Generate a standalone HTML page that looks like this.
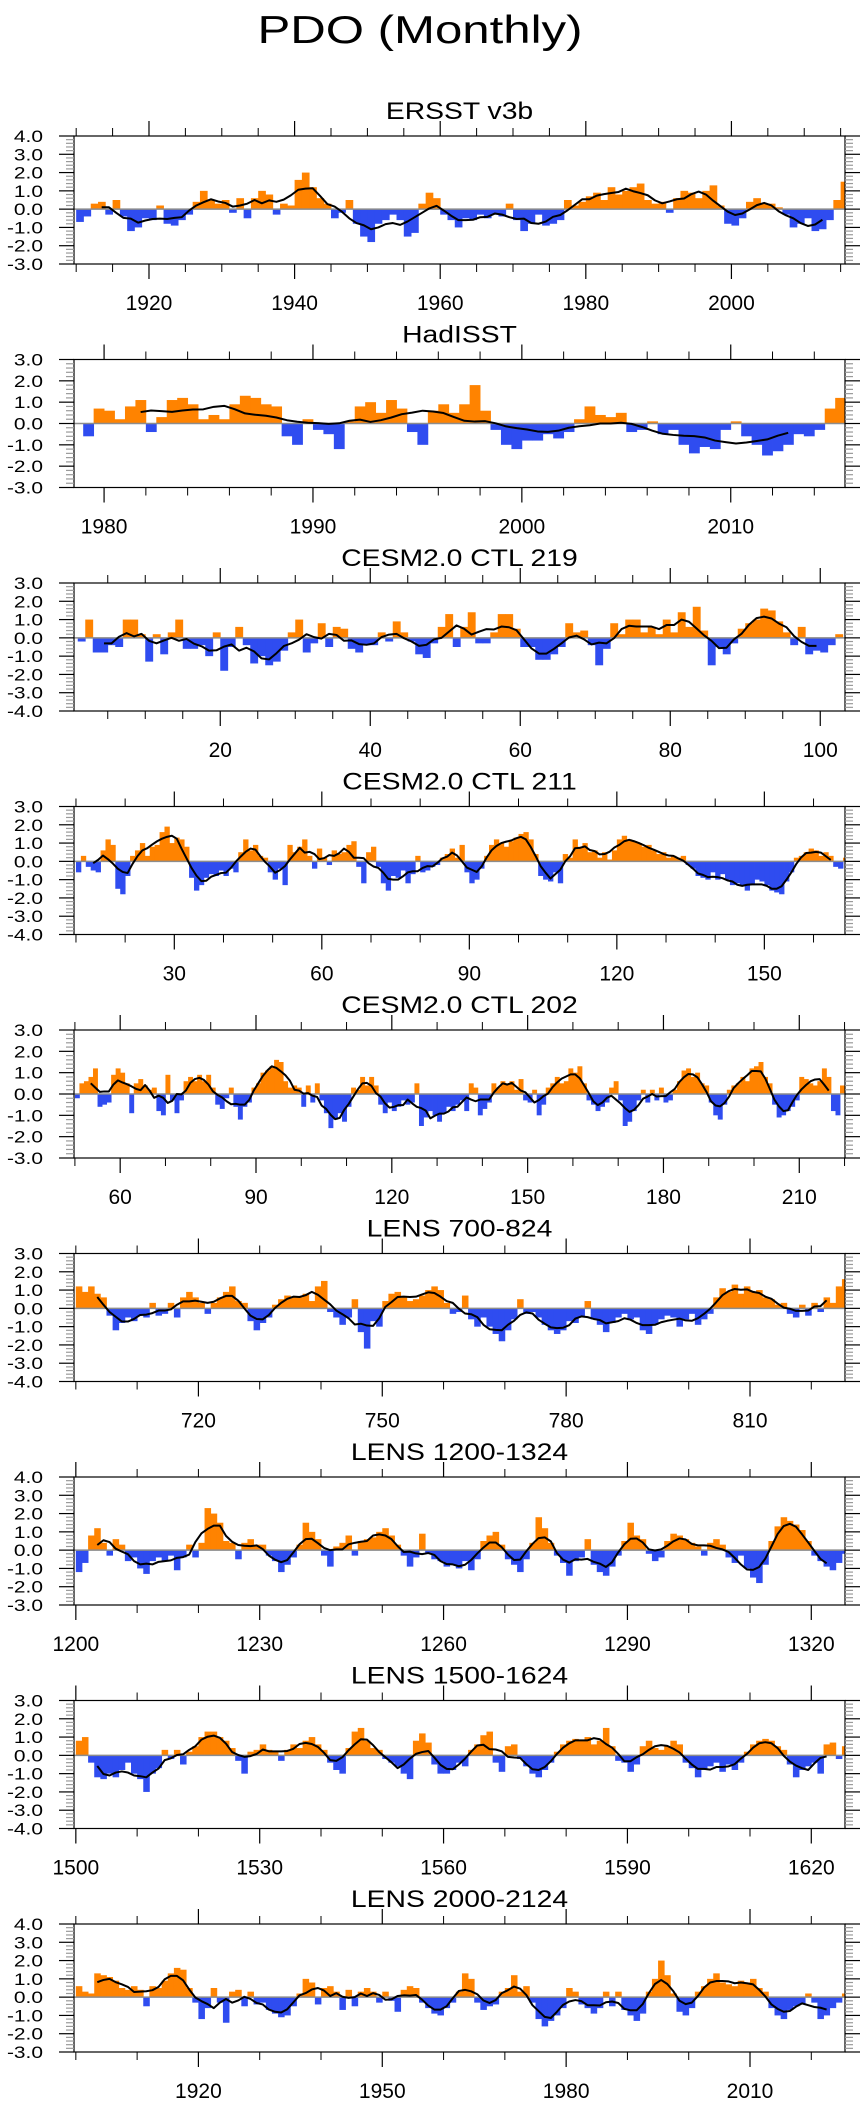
<!DOCTYPE html>
<html><head><meta charset="utf-8"><title>PDO (Monthly)</title>
<style>
html,body{margin:0;padding:0;background:#fff;}
svg{display:block;font-family:"Liberation Sans",Arial,sans-serif;}
</style></head>
<body>
<svg id="chart" width="867" height="2107" viewBox="0 0 867 2107" xmlns="http://www.w3.org/2000/svg">
<rect x="0" y="0" width="867" height="2107" fill="#fff"/>
<text x="420" y="43" text-anchor="middle" font-size="39" transform="translate(420,0) scale(1.26,1) translate(-420,0)">PDO (Monthly)</text>
</svg>
<script>
const panelTitles = ["ERSST v3b","HadISST","CESM2.0 CTL 219","CESM2.0 CTL 211","CESM2.0 CTL 202","LENS 700-824","LENS 1200-1324","LENS 1500-1624","LENS 2000-2124"];

const ersstStart = 1910;
const ersstValues = [-0.7,-0.4,0.3,0.4,-0.3,0.5,-0.4,-1.2,-1.0,-0.5,-0.6,0.2,-0.8,-0.9,-0.6,-0.3,0.4,1.0,0.5,0.3,0.5,-0.2,0.6,-0.5,0.6,1.0,0.8,-0.3,0.3,0.2,1.6,2.0,1.2,0.6,0.3,-0.5,-0.2,0.5,-0.8,-1.5,-1.8,-0.8,-0.6,-0.3,-0.6,-1.5,-1.3,0.3,0.9,0.6,-0.3,-0.6,-1.0,-0.5,-0.6,-0.3,-0.5,-0.3,-0.4,0.3,-0.6,-1.2,-0.8,-0.3,-0.9,-0.8,-0.6,0.5,0.2,0.4,0.7,0.9,0.5,1.2,0.8,1.0,1.2,1.4,0.5,0.3,0.4,-0.2,0.6,1.0,0.9,0.6,1.0,1.3,0.2,-0.8,-0.9,-0.5,0.4,0.6,0.3,0.3,0.1,-0.3,-1.0,-0.8,-0.5,-1.2,-1.1,-0.6,0.5,1.5];

const hadStart = 1979.0;
const hadValues = [-0.6,0.7,0.6,0.2,0.8,1.1,-0.4,0.3,1.1,1.2,0.9,0.2,0.4,0.2,0.9,1.3,1.2,0.9,0.8,-0.6,-1.0,0.2,-0.3,-0.5,-1.2,0.1,0.8,1.0,0.5,1.1,0.7,-0.4,-1.0,0.6,0.9,0.5,0.9,1.8,0.6,-0.3,-1.0,-1.2,-0.8,-0.8,-0.5,-0.7,-0.4,0.2,0.8,0.4,0.3,0.5,-0.4,-0.3,0.1,-0.5,-0.3,-1.0,-1.4,-1.1,-1.2,-0.3,0.1,-0.6,-1.0,-1.5,-1.3,-1.0,-0.5,-0.6,-0.3,0.7,1.2];

const ctl219Start = 1;
const ctl219Values = [-0.2,1.0,-0.8,-0.8,-0.4,-0.5,1.0,1.0,0.2,-1.3,0.2,-0.9,0.3,1.0,-0.6,-0.6,-0.4,-1.0,0.3,-1.8,-0.5,0.6,-0.4,-1.4,-1.0,-1.5,-1.3,-0.7,0.3,1.0,-0.8,-0.3,0.8,-0.5,0.6,0.5,-0.6,-0.8,-0.4,-0.4,0.3,-0.2,0.9,0.3,-0.2,-0.9,-1.1,-0.3,0.6,1.3,-0.5,0.6,1.4,-0.3,-0.3,0.3,1.3,1.3,0.5,-0.5,-0.5,-1.2,-1.2,-0.9,-0.5,0.8,0.3,0.4,-0.4,-1.5,-0.6,0.8,0.2,1.0,1.0,0.3,0.6,0.2,1.0,0.3,1.4,0.6,1.7,0.4,-1.5,-0.5,-0.9,-0.3,0.5,0.8,1.0,1.6,1.5,0.9,0.3,-0.4,0.6,-0.9,-0.7,-0.8,-0.4,0.2];

const ctl211Start = 10;
const ctl211Values = [-0.6,0.3,-0.3,-0.5,-0.6,0.6,1.2,0.9,-1.5,-1.8,-0.8,0.3,0.6,1.0,0.3,0.8,0.9,1.6,1.9,1.0,1.3,1.2,0.8,-0.9,-1.6,-1.3,-0.9,-0.7,-0.8,-0.5,-0.8,-0.4,-0.6,0.5,1.2,0.6,0.9,0.3,0.2,-0.6,-1.0,-0.4,-1.3,0.9,0.5,0.8,1.2,0.3,-0.4,0.7,0.2,-0.2,0.6,0.4,0.5,0.9,1.1,-0.3,-1.2,0.5,0.8,-0.3,-1.2,-1.6,-0.8,-0.9,-0.5,-1.2,-0.7,0.3,-0.6,-0.5,-0.3,-0.2,0.2,0.4,0.7,0.2,0.9,-0.6,-1.2,-1.0,-0.4,0.3,0.9,1.2,1.0,0.8,1.1,1.3,1.5,1.6,1.2,0.4,-0.8,-1.0,-1.1,-0.6,-1.2,0.4,0.2,1.2,0.8,1.0,0.5,0.6,0.2,0.5,0.1,0.6,1.2,1.4,1.2,1.1,1.0,0.8,0.9,0.6,0.4,0.5,0.2,0.3,0.2,0.3,-0.2,-0.4,-0.8,-0.9,-1.0,-0.6,-1.0,-0.7,-1.0,-1.3,-1.2,-1.3,-1.6,-1.3,-1.0,-1.1,-1.3,-1.6,-1.7,-1.8,-1.1,-0.6,0.2,0.3,0.5,0.7,0.6,0.3,0.5,0.3,-0.3,-0.4,0.2];

const ctl202Start = 50;
const ctl202Values = [-0.2,0.5,0.6,0.8,1.2,-0.6,-0.5,-0.4,0.9,1.2,1.0,0.5,-0.9,0.5,0.7,0.4,0.2,0.3,-0.8,-1.0,0.9,-0.3,-0.9,-0.3,0.6,0.8,0.6,0.9,0.6,0.9,0.3,-0.5,-0.7,-0.2,0.3,-0.6,-1.2,-0.6,-0.4,0.3,0.5,1.0,1.1,1.3,1.6,1.5,0.6,0.3,0.4,0.3,-0.6,0.4,-0.4,0.5,-0.3,-0.9,-1.6,-1.2,-0.9,-1.3,-0.6,0.3,0.2,0.8,0.4,0.8,0.4,-0.5,-0.9,-0.4,-0.8,-0.6,-0.3,-0.5,-0.4,0.5,-1.5,-1.1,-0.8,-1.0,-1.3,-0.9,-0.6,-0.8,-0.5,-0.3,-0.8,0.5,0.3,-1.0,-0.7,-0.4,0.5,0.3,0.6,0.5,0.6,0.2,0.7,-0.3,-0.4,0.2,-1.0,-0.5,0.3,0.5,0.8,0.5,0.6,1.2,1.0,1.3,0.5,-0.3,-0.5,-0.8,-0.6,-0.4,0.3,0.6,-0.3,-1.5,-1.3,-0.8,-0.3,0.2,-0.4,0.2,-0.3,0.3,-0.4,-0.3,0.2,0.6,1.1,1.2,0.8,1.0,0.5,0.4,-0.4,-1.0,-1.2,-0.5,0.2,0.4,0.5,0.8,0.6,1.2,1.3,1.5,0.8,0.5,-0.5,-1.1,-1.0,-0.8,-0.6,-0.3,0.8,0.7,0.5,0.4,0.6,1.2,0.8,-0.8,-1.0,0.4];

const lens700Start = 700;
const lens700Values = [1.2,0.9,1.2,0.8,0.6,-0.4,-1.2,-0.8,-0.5,-0.7,-0.4,-0.5,0.3,-0.4,-0.3,0.3,-0.5,0.6,0.9,0.6,0.3,-0.3,0.3,0.6,0.9,1.2,0.4,0.3,-0.7,-1.2,-0.8,-0.5,0.2,0.5,0.7,0.6,0.6,0.8,0.4,1.2,1.5,-0.2,-0.5,-0.9,-0.5,0.5,-1.3,-2.2,-0.7,-1.0,0.4,0.8,0.9,0.6,0.4,0.5,0.7,1.0,1.2,1.0,0.3,-0.3,-0.2,0.7,-0.6,-1.0,-0.5,-1.0,-1.4,-1.8,-1.2,-0.6,0.5,-0.3,-0.2,-0.5,-0.9,-1.2,-1.4,-1.2,-0.7,-0.8,-0.5,0.4,-0.6,-0.9,-1.3,-0.8,-0.5,-0.3,-0.6,-0.5,-1.2,-1.4,-0.9,-0.6,-0.4,-0.5,-1.0,-0.6,-0.3,-0.9,-0.6,-0.3,0.6,1.1,0.9,1.3,0.8,1.2,0.9,1.0,0.6,0.5,0.2,0.3,-0.3,-0.5,0.2,-0.4,0.3,-0.2,0.6,0.3,1.2,1.6];

const lens1200Start = 1200;
const lens1200Values = [-1.2,-0.7,0.8,1.2,0.4,-0.3,0.6,0.3,-0.6,-0.4,-1.0,-1.3,-0.6,-0.4,-0.6,-0.3,-1.1,-0.4,0.3,-0.4,0.4,2.3,2.0,1.5,0.5,0.4,-0.5,0.4,0.6,0.3,0.3,-0.3,-0.6,-1.2,-0.8,-0.4,0.3,1.5,1.0,0.6,-0.3,-0.9,0.2,0.4,0.8,-0.3,0.5,0.6,0.7,1.0,1.2,0.8,0.3,-0.3,-0.9,-0.4,0.9,-0.2,-0.5,-0.6,-0.9,-0.8,-1.0,-0.6,-1.1,-0.5,0.5,0.8,1.0,0.3,-0.5,-0.8,-1.2,-0.5,0.4,1.8,1.2,0.4,-0.3,-0.7,-1.4,-0.6,-0.4,0.6,-0.8,-1.2,-1.4,-0.9,-0.3,0.5,1.5,0.8,0.6,-0.2,-0.6,-0.4,0.5,0.9,0.8,0.6,0.4,0.2,-0.3,0.4,0.6,0.3,-0.4,-0.7,-0.3,-1.0,-1.5,-1.8,-0.8,0.5,1.3,1.8,1.6,1.4,1.1,0.5,-0.3,-0.6,-0.9,-1.1,-0.7,-0.2];

const lens1500Start = 1500;
const lens1500Values = [0.8,1.0,-0.4,-1.2,-1.3,-1.0,-1.2,-0.8,-0.4,-1.0,-1.3,-2.0,-1.0,-0.7,0.3,-0.2,0.3,-0.5,0.2,0.5,1.0,1.3,1.3,1.0,0.8,0.4,-0.3,-1.0,0.2,0.3,0.6,0.3,0.2,-0.3,0.3,0.6,0.4,0.8,1.0,0.6,0.3,-0.4,-0.8,-1.0,0.4,1.3,1.5,0.8,0.4,0.3,-0.2,-0.4,-0.6,-1.0,-1.3,0.8,1.2,0.7,-0.5,-1.0,-1.0,-0.8,-0.4,-0.6,0.3,0.6,1.1,1.3,-0.4,-0.9,0.5,0.6,-0.2,-0.6,-1.0,-1.2,-0.8,-0.4,0.2,0.6,0.8,0.9,0.8,1.0,0.6,0.8,1.5,0.5,-0.3,-0.4,-0.9,-0.5,0.5,0.8,0.4,0.3,0.5,0.8,0.6,-0.4,-0.7,-1.2,-0.8,-0.6,-0.4,-0.9,-0.5,-0.8,-0.4,0.2,0.6,0.8,0.9,0.8,0.5,0.3,-0.5,-1.2,-0.8,-0.6,-0.4,-1.0,0.6,0.7,-0.2,0.5];

const lens2000Start = 1900;
const lens2000Values = [0.6,0.3,0.2,1.3,1.2,1.1,0.9,0.5,0.4,0.6,0.4,-0.5,0.6,0.5,0.9,1.3,1.6,1.5,0.5,-0.3,-1.2,-0.6,0.5,-0.3,-1.4,0.3,0.4,-0.5,0.3,-0.4,-0.3,-0.7,-0.9,-1.1,-1.0,-0.5,0.2,1.0,0.8,-0.4,0.5,0.6,0.3,-0.7,0.4,-0.5,0.3,0.5,0.3,-0.3,0.3,-0.2,-0.8,0.4,0.6,0.5,-0.3,-0.6,-0.9,-1.0,-0.6,-0.3,0.3,1.3,1.0,-0.3,-0.7,-0.5,-0.4,0.3,0.5,1.2,0.3,0.6,-0.3,-1.2,-1.6,-1.3,-1.0,-0.6,0.5,0.3,-0.4,-0.6,-0.9,-0.6,0.3,-0.5,0.3,-0.7,-1.0,-1.3,-0.9,0.3,1.0,2.0,1.2,0.2,-0.8,-1.0,-0.6,0.3,0.6,1.0,1.3,0.8,0.7,0.6,0.9,0.8,1.0,0.5,0.3,-0.6,-1.0,-1.2,-0.7,-0.5,-0.4,0.2,-0.3,-1.2,-1.0,-0.6,-0.3,0.2];

const ersstMajorTicks = [1920,1940,1960,1980,2000];
const hadMajorTicks = [1980,1990,2000,2010];
const ctl219MajorTicks = [20,40,60,80,100];
const ctl211MajorTicks = [30,60,90,120,150];
const ctl202MajorTicks = [60,90,120,150,180,210];
const lens700MajorTicks = [720,750,780,810];
const lens1200MajorTicks = [1200,1230,1260,1290,1320];
const lens1500MajorTicks = [1500,1530,1560,1590,1620];
const lens2000MajorTicks = [1920,1950,1980,2010];

const panels = [
 {values:ersstValues,start:ersstStart,step:1,xMin:1909.7,xMax:2015.6,yMin:-3,yMax:4,majors:ersstMajorTicks,minorFrom:1910,minorTo:2015,minorStep:5,half:2,trim:3},
 {values:hadValues,start:hadStart,step:0.5,xMin:1978.56,xMax:2015.47,yMin:-3,yMax:3,majors:hadMajorTicks,minorFrom:1980,minorTo:2014,minorStep:2,half:5,trim:5},
 {values:ctl219Values,start:ctl219Start,step:1,xMin:0.5,xMax:103.3,yMin:-4,yMax:3,majors:ctl219MajorTicks,minorFrom:5,minorTo:100,minorStep:5,half:2,trim:3},
 {values:ctl211Values,start:ctl211Start,step:1,xMin:9.6,xMax:166.4,yMin:-4,yMax:3,majors:ctl211MajorTicks,minorFrom:10,minorTo:160,minorStep:10,half:2,trim:3},
 {values:ctl202Values,start:ctl202Start,step:1,xMin:49.8,xMax:220.1,yMin:-3,yMax:3,majors:ctl202MajorTicks,minorFrom:50,minorTo:220,minorStep:10,half:2,trim:3},
 {values:lens700Values,start:lens700Start,step:1,xMin:699.7,xMax:825.5,yMin:-4,yMax:3,majors:lens700MajorTicks,minorFrom:700,minorTo:820,minorStep:10,half:2,trim:3},
 {values:lens1200Values,start:lens1200Start,step:1,xMin:1199.7,xMax:1325.5,yMin:-3,yMax:4,majors:lens1200MajorTicks,minorFrom:1200,minorTo:1320,minorStep:10,half:2,trim:3},
 {values:lens1500Values,start:lens1500Start,step:1,xMin:1499.7,xMax:1625.5,yMin:-4,yMax:3,majors:lens1500MajorTicks,minorFrom:1500,minorTo:1620,minorStep:10,half:2,trim:3},
 {values:lens2000Values,start:lens2000Start,step:1,xMin:1899.7,xMax:2025.5,yMin:-3,yMax:4,majors:lens2000MajorTicks,minorFrom:1900,minorTo:2020,minorStep:10,half:2,trim:3}
];

const NS = "http://www.w3.org/2000/svg";
const svg = document.getElementById('chart');
const X0 = 74, X1 = 845, H = 128, TOP0 = 136, GAP = 223.5;

function mk(tag, attrs, parent){
  const e = document.createElementNS(NS, tag);
  for (const k in attrs) e.setAttribute(k, attrs[k]);
  parent.appendChild(e);
  return e;
}

panels.forEach(function(p, i){
  const top = TOP0 + GAP*i, bot = top + H;
  const xs = function(v){ return X0 + (v - p.xMin)/(p.xMax - p.xMin)*(X1 - X0); };
  const ys = function(v){ return bot - (v - p.yMin)/(p.yMax - p.yMin)*H; };
  const g = mk('g', {}, svg);
  
  

  const clipId = 'clip' + i;
  const cp = mk('clipPath', {id: clipId}, g);
  mk('rect', {x: X0, y: top, width: X1-X0, height: H}, cp);

  const t = mk('text', {x: (X0+X1)/2, y: top-17, 'text-anchor':'middle', 'font-size': 24,
    transform: 'translate(' + (X0+X1)/2 + ',0) scale(1.18,1) translate(' + (-(X0+X1)/2) + ',0)'}, g);
  t.textContent = panelTitles[i];
  
  

  const bars = mk('g', {'clip-path': 'url(#' + clipId + ')'}, g);
  
  
  const y0 = ys(0);
  p.values.forEach(function(v, k){
    const a = p.start + k*p.step;
    const xa = xs(a), xb = xs(a + p.step);
    const yv = ys(v);
    const r = mk('rect', {x: xa.toFixed(2), y: Math.min(yv, y0).toFixed(2), width: (xb-xa+0.4).toFixed(2),
      height: Math.abs(yv - y0).toFixed(2), fill: v >= 0 ? '#ff8300' : '#2f4cf0'}, bars);
    
    
  });

  const zl = mk('line', {x1: X0, x2: X1, y1: y0, y2: y0, stroke: '#8c8c8c', 'stroke-width': 1.5}, g);
  
  

  const n = p.values.length;
  let pts = [];
  for (let k = p.trim; k <= n-1-p.trim; k++){
    let s = 0, c = 0;
    for (let j = k - p.half; j <= k + p.half; j++){ if (j >= 0 && j < n){ s += p.values[j]; c++; } }
    const cx = xs(p.start + k*p.step + p.step/2);
    pts.push(cx.toFixed(2) + ',' + ys(s/c).toFixed(2));
  }
  const pl = mk('polyline', {points: pts.join(' '), fill: 'none', stroke: '#000', 'stroke-width': 2, 'stroke-linejoin': 'round'}, g);
  
  

  const fr = mk('rect', {x: X0, y: top, width: X1-X0, height: H, fill: 'none', stroke: '#000', 'stroke-width': 1.2}, g);
  
  

  for (let v = p.yMin; v <= p.yMax + 1e-9; v += 0.2){
    const vv = Math.round(v*10)/10;
    const yy = ys(vv);
    const major = Math.abs(vv - Math.round(vv)) < 1e-6;
    const len = major ? 15 : 8;
    const col = major ? '#000' : '#9a9a9a';
    const l1 = mk('line', {x1: X0-len, x2: X0, y1: yy, y2: yy, stroke: col, 'stroke-width': 1.2}, g);
    
    
    const l2 = mk('line', {x1: X1, x2: X1+len, y1: yy, y2: yy, stroke: col, 'stroke-width': 1.2}, g);
    
    
    if (major){
      const lb = mk('text', {x: 43, y: yy + 6, 'text-anchor': 'end', 'font-size': 17,
        transform: 'translate(43,0) scale(1.23,1) translate(-43,0)'}, g);
      lb.textContent = vv.toFixed(1);
      
      
    }
  }
  for (let v = p.minorFrom; v <= p.minorTo + 1e-9; v += p.minorStep){
    if (p.majors.indexOf(v) >= 0) continue;
    const xx = xs(v);
    const a1 = mk('line', {x1: xx, x2: xx, y1: bot, y2: bot+8, stroke: '#000', 'stroke-width': 1}, g);
    
    
    const a2 = mk('line', {x1: xx, x2: xx, y1: top-8, y2: top, stroke: '#000', 'stroke-width': 1}, g);
    
    
  }
  p.majors.forEach(function(v){
    const xx = xs(v);
    const b1 = mk('line', {x1: xx, x2: xx, y1: bot, y2: bot+15, stroke: '#000', 'stroke-width': 1.2}, g);
    
    
    const b2 = mk('line', {x1: xx, x2: xx, y1: top-15, y2: top, stroke: '#000', 'stroke-width': 1.2}, g);
    
    
    const lb = mk('text', {x: xx, y: bot + 46, 'text-anchor': 'middle', 'font-size': 21}, g);
    lb.textContent = String(v);
    
    
  });
});
</script>
</body></html>
